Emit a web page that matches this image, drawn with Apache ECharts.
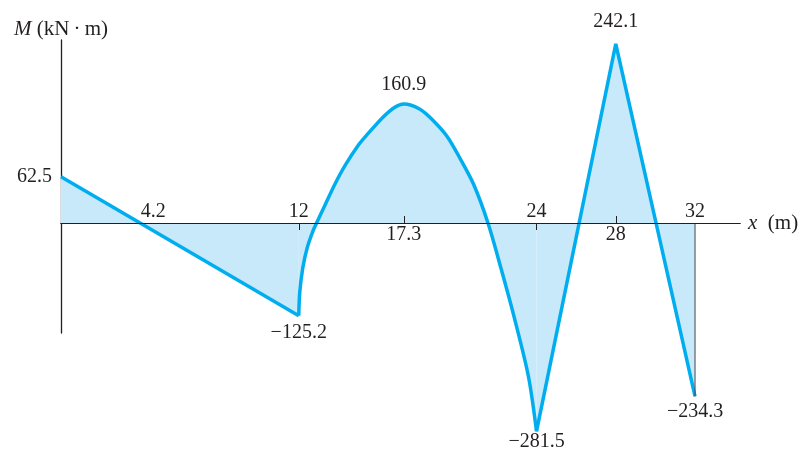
<!DOCTYPE html>
<html>
<head>
<meta charset="utf-8">
<script src="https://cdn.jsdelivr.net/npm/echarts@6/dist/echarts.min.js"></script>
<style>
  html, body { margin: 0; padding: 0; background: #fff; }
  #chart-1 { width: 802px; height: 452px; }
</style>
</head>
<body>
<div id="chart-1"></div>
<script>
/************************        Bending moment diagram        **************************/

// x positions (m) and moments (kN·m)
var lineX  = [0, 12];
var lineM  = [62.5, -125.2];
var curveX = [12, 12.05, 12.2, 12.43, 12.73, 12.9, 13.35, 13.81, 14.34, 15.03, 15.47, 16.25, 16.85, 17.3,
              18.12, 18.78, 19.48, 20.16, 20.83, 21.55, 22.21, 22.88, 23.59, 24];
var curveM = [-125.2, -93.7, -61, -33, -9.8, 0, 25.7, 51.8, 77.8, 106, 120, 143, 156.5, 160.9,
              153.8, 138.6, 117.3, 86.4, 52, 0, -61.5, -128, -207, -281.5];
var zigX   = [24, 28, 32];
var zigM   = [-281.5, 242.1, -234.3];

var labelsAbove = [4.2, 12, 24, 32];
var ticksBelow  = [12, 24];
var labelsBelow = [17.3, 28];

var font = "'Liberation Serif', 'Times New Roman', serif";
var ink = '#231f20';
var blue = '#00aeef';
var fill = '#c8e9f9';

function pairs(xs, ys) {
    return xs.map(function (x, i) { return [x, ys[i]]; });
}

function mark(data, i, position, distance) {
    data[i] = {
        value: data[i],
        label: {show: true, position: position, distance: distance}
    };
}

var lineData = pairs(lineX, lineM);
var curveData = pairs(curveX, curveM);
var zigData = pairs(zigX, zigM);
var endData = [[zigX[2], zigM[2]], [zigX[2], 0]];

mark(lineData, 0, 'left', 9);
mark(lineData, 1, 'bottom', 7);
mark(curveData, 13, 'top', 9);
mark(zigData, 0, 'bottom', 0);
mark(zigData, 1, 'top', 12);
mark(zigData, 2, 'bottom', 5);

var aboveData = labelsAbove.map(function (v) { return [v, 0]; });
var belowData = labelsBelow.map(function (v) { return [v, 0]; });
aboveData[0] = {value: aboveData[0], label: {offset: [9, 0]}};

var valueLabel = {
    show: false,
    fontFamily: font,
    fontSize: 20,
    color: ink,
    formatter: function (p) { return String(p.value[1]).replace('-', '\u2212'); }
};

var nameStyle = {
    fontFamily: font, fontSize: 21, color: ink,
    rich: {i: {fontFamily: font, fontSize: 21, color: ink, fontStyle: 'italic'}}
};

function moment(data, smooth) {
    return {
        type: 'line', data: data, clip: false,
        symbol: 'circle', symbolSize: 0.1, showSymbol: true,
        itemStyle: {color: blue},
        smooth: smooth,
        lineStyle: {color: blue, width: 3.5},
        areaStyle: {color: fill, opacity: 1},
        label: valueLabel,
        z: 3
    };
}

// tick numbers along the x axis, drawn as labels of an invisible line
function tickText(data, position, distance) {
    return {
        type: 'line', data: data, clip: false, silent: true,
        symbol: 'circle', symbolSize: 0.1, showSymbol: true,
        itemStyle: {color: ink},
        lineStyle: {width: 0, opacity: 0},
        label: {
            show: true, position: position, distance: distance,
            fontFamily: font, fontSize: 20, color: ink,
            formatter: function (p) { return String(p.value[0]); }
        },
        z: 6
    };
}

function blankLabels(values) {
    return {show: true, customValues: values, formatter: function () { return ''; }};
}

var dom = document.getElementById("chart-1");
var myChart = echarts.init(dom);
var option = {
    animation: false,
    grid: {left: 61, right: 62, top: 40, height: 293},
    xAxis: [
        {
            type: 'value', min: 0, max: 34.27, position: 'bottom', z: 5,
            name: '{i|x}  (m)', nameLocation: 'end', nameGap: 8,
            nameTextStyle: nameStyle,
            axisLine: {onZero: true, onZeroAxisIndex: 0, lineStyle: {color: ink, width: 1.2}},
            axisTick: {show: true, customValues: ticksBelow, length: 7, lineStyle: {color: ink, width: 1}},
            axisLabel: blankLabels(ticksBelow),
            splitLine: {show: false}
        },
        {
            type: 'value', min: 0, max: 34.27, position: 'bottom', z: 5,
            axisLine: {onZero: true, onZeroAxisIndex: 1, lineStyle: {color: ink, width: 1.2}},
            axisTick: {show: true, customValues: labelsBelow, inside: true, length: 7, lineStyle: {color: ink, width: 1}},
            axisLabel: blankLabels(labelsBelow),
            splitLine: {show: false}
        }
    ],
    yAxis: [
        {
            type: 'value', min: -148.6, max: 247.3, position: 'left',
            name: '{i|M} (kN\u2009\u00b7\u2009m)', nameLocation: 'end', nameGap: 0,
            nameTextStyle: nameStyle,
            axisLine: {show: true, onZero: false, lineStyle: {color: ink, width: 1.3}},
            axisTick: {show: false},
            axisLabel: {show: false},
            splitLine: {show: false}
        },
        {
            type: 'value', min: -148.6, max: 247.3, position: 'right',
            axisLine: {show: false, onZero: false},
            axisTick: {show: false},
            axisLabel: {show: false},
            splitLine: {show: false}
        }
    ],
    series: [
        moment(lineData, false),
        moment(curveData, 0.3),
        moment(zigData, false),
        {
            type: 'line', data: endData, clip: false, symbol: 'none',
            lineStyle: {color: '#444', width: 1},
            z: 4
        },
        tickText(aboveData, 'top', 1),
        tickText(belowData, 'bottom', 2)
    ]
};

myChart.setOption(option);
</script>
</body>
</html>
